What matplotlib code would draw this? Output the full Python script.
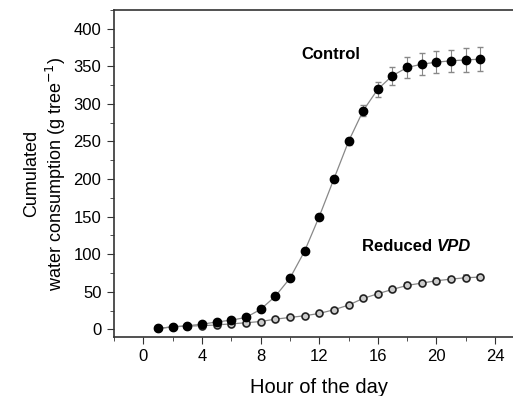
import matplotlib
matplotlib.use("Agg")
import matplotlib.pyplot as plt
from matplotlib.ticker import MultipleLocator

plt.rcParams['font.family'] = ['Liberation Sans', 'DejaVu Sans']

hours = list(range(1, 24))
control = [1.3, 3.5, 5, 7, 10, 12.4, 16, 26.7, 44, 68, 104, 150, 200, 250, 291,
           319.5, 337.6, 348.4, 352.8, 355.5, 357.3, 358.5, 359.5]
control_err = [0.5, 0.5, 0.5, 0.7, 0.8, 1, 1, 1.5, 2, 2.5, 3, 3.5, 4, 5, 7.5,
               10, 12, 14, 15, 15, 15, 16, 16]
reduced = [1.3, 3.5, 4.5, 5, 6, 7.5, 8.9, 10.6, 13.7, 16, 18.2, 21.3, 26.2, 32.4,
           41.3, 47.5, 53.3, 58.6, 61.7, 64.8, 67, 68.8, 69.7]
reduced_err = [0.3, 0.4, 0.5, 0.5, 0.6, 0.7, 0.8, 0.9, 1, 1.1, 1.2, 1.3, 1.5, 1.7,
               2, 2.2, 2.4, 2.6, 2.8, 3, 3.1, 3.2, 3.3]

fig = plt.figure(figsize=(5.13, 3.96), dpi=100)
ax = fig.add_axes([0.2222, 0.149, 0.80, 0.826])

ax.errorbar(hours, reduced, yerr=reduced_err, fmt='o', ecolor='#999999',
            elinewidth=0.8, capsize=2, markersize=5, markerfacecolor='#cccccc',
            markeredgecolor='#222222', markeredgewidth=1.2, zorder=3)
ax.plot(hours, reduced, '-', color='#888888', lw=0.9, zorder=2)
ax.errorbar(hours, control, yerr=control_err, fmt='o', ecolor='#888888',
            elinewidth=0.8, capsize=2.5, markersize=6, markerfacecolor='black',
            markeredgecolor='black', zorder=4)
ax.plot(hours, control, '-', color='#888888', lw=0.9, zorder=2)

ax.set_xlim(-2, 26)
ax.set_ylim(-10, 425)
ax.xaxis.set_major_locator(MultipleLocator(4))
ax.xaxis.set_minor_locator(MultipleLocator(2))
ax.yaxis.set_major_locator(MultipleLocator(50))
ax.yaxis.set_minor_locator(MultipleLocator(25))
ax.tick_params(which='both', direction='out', top=False, right=False, labelsize=12, color='#333333')
ax.tick_params(which='major', length=5, pad=4)
ax.tick_params(which='minor', length=3)
for s in ax.spines.values():
    s.set_linewidth(1.2)
    s.set_color('#333333')

ax.set_xlabel('Hour of the day', fontsize=14.5, labelpad=10)
ax.set_ylabel('Cumulated\nwater consumption (g tree$^{-1}$)', fontsize=13, labelpad=4)

ax.text(12.8, 366, 'Control', fontsize=12, fontweight='bold', ha='center', va='center')
ax.text(20.0, 111, 'Reduced ', fontsize=12, fontweight='bold', ha='right', va='center')
ax.text(20.0, 111, 'VPD', fontsize=12, fontweight='bold', fontstyle='italic', ha='left', va='center')

fig.savefig('out.png', dpi=100)
